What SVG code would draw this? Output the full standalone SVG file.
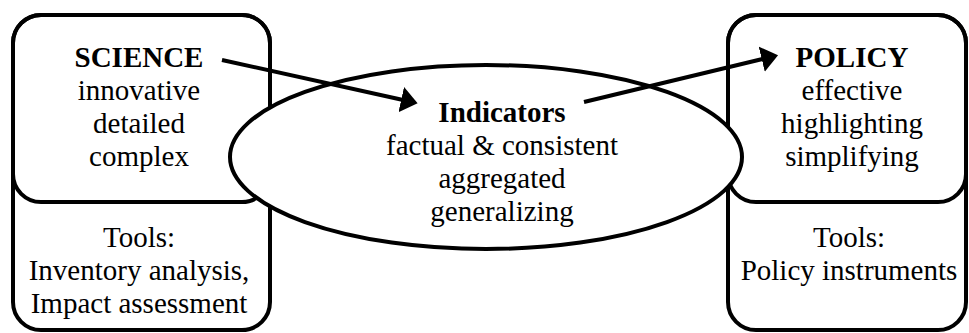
<svg xmlns="http://www.w3.org/2000/svg" width="969" height="333" viewBox="0 0 969 333">
<style>
.box{fill:#fff;stroke:#000;stroke-width:4}
.open{fill:none;stroke:#000;stroke-width:4}
text{font-family:'Liberation Serif','Times New Roman',serif;font-size:29px;fill:#000;text-anchor:middle}
.b{font-weight:bold}
.arr{stroke:#000;stroke-width:4;fill:none;marker-end:url(#ah)}
</style>
<defs>
<marker id="ah" markerWidth="4.2" markerHeight="6.5" refX="0.2" refY="3.25" orient="auto" markerUnits="strokeWidth" viewBox="0 0 4.2 6.5">
<path d="M0,0 L4.2,3.25 L0,6.5 Z" fill="#000"/>
</marker>
</defs>
<g id="science">
<rect class="box" x="13" y="15" width="257" height="315" rx="28"/>
<rect class="open" x="13" y="15" width="257" height="187" rx="28"/>
<text x="139" y="67" class="b">SCIENCE</text>
<text x="139" y="100">innovative</text>
<text x="139" y="133">detailed</text>
<text x="139" y="166">complex</text>
<text x="139" y="247">Tools:</text>
<text x="139" y="280">Inventory analysis,</text>
<text x="139" y="313">Impact assessment</text>
</g>
<g id="policy">
<rect class="box" x="728" y="15" width="238" height="315" rx="28"/>
<rect class="open" x="728" y="15" width="238" height="187" rx="28"/>
<text x="852" y="67" class="b">POLICY</text>
<text x="852" y="100">effective</text>
<text x="852" y="133">highlighting</text>
<text x="852" y="166">simplifying</text>
<text x="849" y="247">Tools:</text>
<text x="849" y="280">Policy instruments</text>
</g>
<g id="indicators">
<ellipse class="box" cx="486" cy="157" rx="256" ry="92"/>
<text x="502" y="122" class="b">Indicators</text>
<text x="502" y="155">factual &amp; consistent</text>
<text x="502" y="188">aggregated</text>
<text x="502" y="221">generalizing</text>
</g>
<g id="connectors">
<line class="arr" x1="222" y1="60" x2="402" y2="99.8"/>
<line class="arr" x1="584" y1="102" x2="762.5" y2="59"/>
</g>
</svg>
